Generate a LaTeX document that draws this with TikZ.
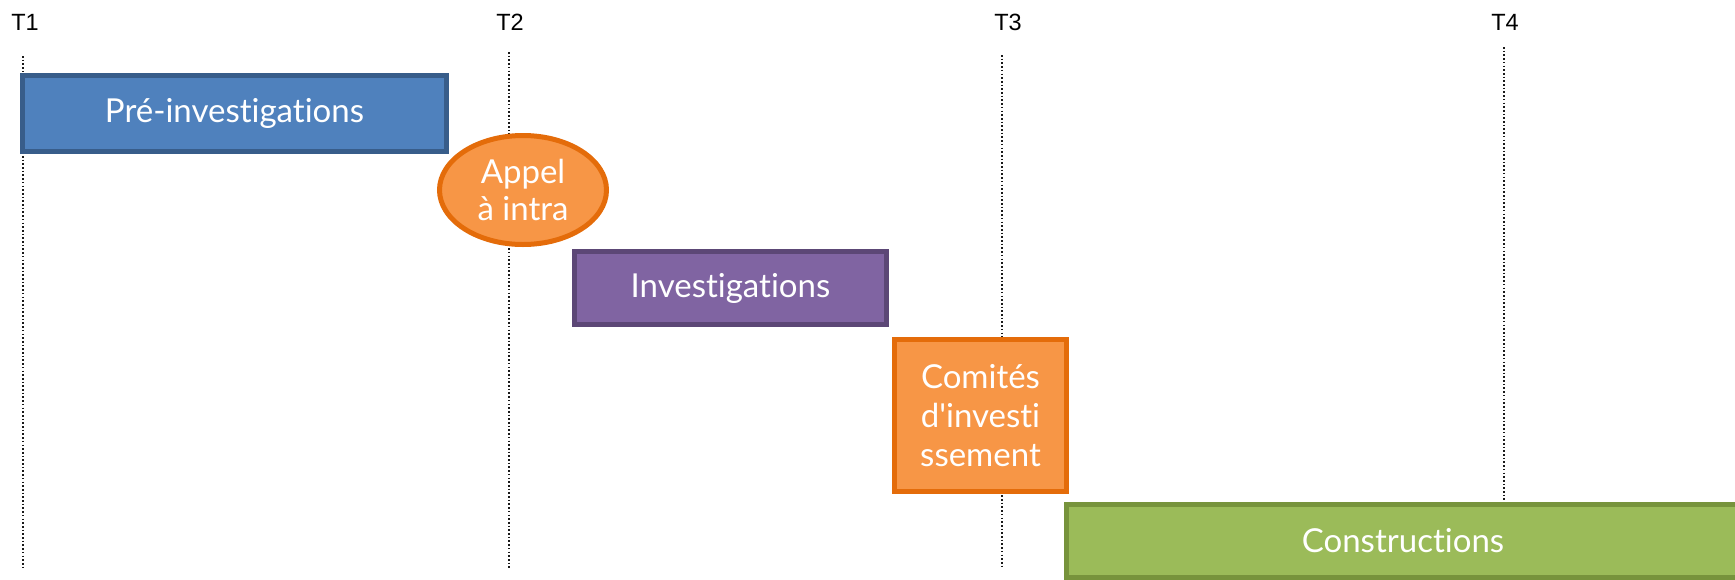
\documentclass[tikz,border=0pt]{standalone}
\usepackage{fontspec}
\setmainfont{Lato}[Ligatures={TeX,NoCommon}]
\newfontfamily\labfont{Liberation Sans}
\usetikzlibrary{shapes.geometric}
\definecolor{bluefill}{HTML}{4F81BD}
\definecolor{blueline}{HTML}{385D8A}
\definecolor{orfill}{HTML}{F79646}
\definecolor{orline}{HTML}{E46C0A}
\definecolor{pufill}{HTML}{8064A2}
\definecolor{puline}{HTML}{5C4776}
\definecolor{grfill}{HTML}{9BBB59}
\definecolor{grline}{HTML}{77933C}
\newcommand{\straightquote}{{\XeTeXglyph\XeTeXcharglyph"0027\relax}}
\tikzset{
  phase/.style={draw, line width=5pt, inner sep=0pt, text=white,
    font=\fontsize{33}{39}\selectfont, align=center},
  tlabel/.style={font=\labfont\fontsize{23.5}{26}\selectfont, text=black, inner sep=0pt},
  tline/.style={line width=1.6pt, dash pattern=on 1.6pt off 2.1pt, black!90},
}
\begin{document}
\begin{tikzpicture}[x=1pt,y=-1pt]
\useasboundingbox (0,0) rectangle (1735,579);
\clip (0,0) rectangle (1735,579);
% time labels
\node[tlabel] (t1) at (25,22) {T1};
\node[tlabel] (t2) at (510,22) {T2};
\node[tlabel] (t3) at (1008,22) {T3};
\node[tlabel] (t4) at (1505,22) {T4};
% dotted lines
\coordinate (t1a) at (23,56);  \coordinate (t1b) at (23,568);
\coordinate (t2a) at (509,52); \coordinate (t2b) at (509,568);
\coordinate (t3a) at (1002,55); \coordinate (t3b) at (1002,568);
\coordinate (t4a) at (1504,47); \coordinate (t4b) at (1504,502);
\draw[tline] (t1a) -- (t1b);
\draw[tline] (t2a) -- (t2b);
\draw[tline] (t3a) -- (t3b);
\draw[tline] (t4a) -- (t4b);
% phases
\node[phase, fill=bluefill, draw=blueline, minimum width=424pt, minimum height=76pt]
  (pre) at (234.5,113.5) {Pré-investigations};
\node[phase, ellipse, fill=orfill, draw=orline, minimum width=167pt, minimum height=109pt, font=\fontsize{33}{37}\selectfont]
  (appel) at (523,190) {Appel\\à intra};
\node[phase, fill=pufill, draw=puline, minimum width=312pt, minimum height=73pt]
  (inv) at (730.5,288) {Investigations};
\node[phase, fill=orfill, draw=orline, minimum width=172pt, minimum height=152pt]
  (com) at (980.5,415.5) {Comités\\d\straightquote investi\\ssement};
\node[phase, fill=grfill, draw=grline, minimum width=673pt, minimum height=73pt]
  (cons) at (1403,541) {Constructions};
\end{tikzpicture}
\end{document}
